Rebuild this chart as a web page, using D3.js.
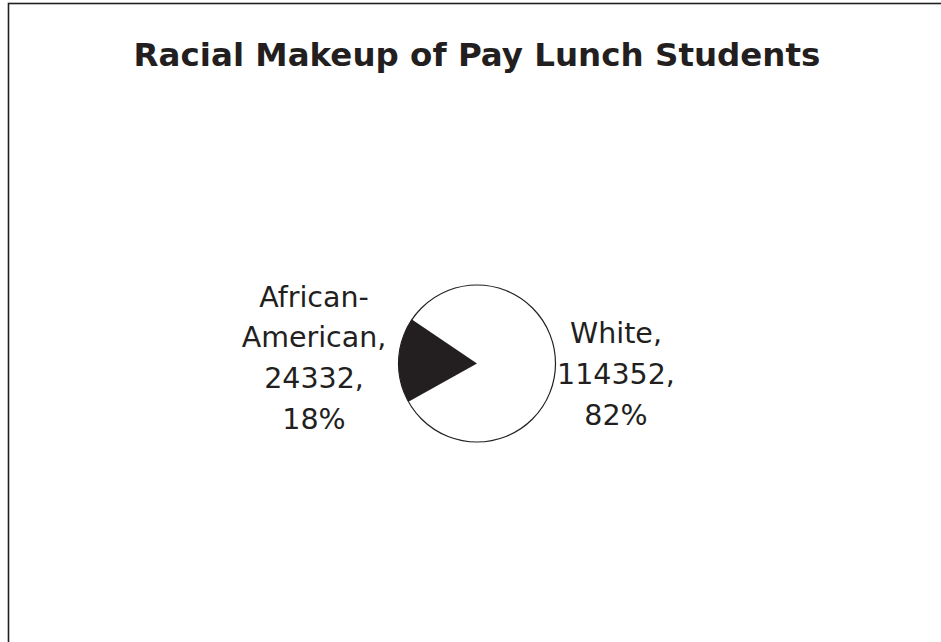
<!DOCTYPE html>
<html>
<head>
<meta charset="utf-8">
<script src="https://cdn.jsdelivr.net/npm/d3@7"></script>
<style>
  html, body { margin: 0; padding: 0; background: #fff; }
  svg { display: block; }
  text { font-family: "DejaVu Sans", Verdana, sans-serif; fill: #231f20; }
</style>
</head>
<body>
<svg id="chart" width="941" height="642"></svg>
<script>
// Pay-lunch student counts by race
const categories = ["White", "African-American"];
const values = [114352, 24332];
const percentLabels = ["82%", "18%"];
const fills = ["#ffffff", "#231f20"];

const svg = d3.select("#chart");
const W = 941, H = 642;

// outer chart frame (runs past the right and bottom edges)
svg.append("rect")
  .attr("x", 8.5).attr("y", 3.5)
  .attr("width", W + 20).attr("height", H + 20)
  .attr("fill", "#fff")
  .attr("stroke", "#231f20").attr("stroke-width", 1.6);

// title
svg.append("text")
  .attr("x", 477).attr("y", 66)
  .attr("text-anchor", "middle")
  .attr("font-weight", "bold")
  .attr("font-size", 32.5)
  .text("Racial Makeup of Pay Lunch Students");

// pie: the White slice is drawn first, ending where the African-American slice begins
const cx = 477, cy = 363.5, r = 78.5;
const endDeg = 304;
const pie = d3.pie().sort(null)
  .startAngle((endDeg - 360) * Math.PI / 180)
  .endAngle(endDeg * Math.PI / 180);
const arcs = pie(values);
const arc = d3.arc().innerRadius(0).outerRadius(r);

const g = svg.append("g").attr("transform", `translate(${cx},${cy})`);
g.selectAll("path.slice")
  .data(arcs)
  .join("path")
  .attr("class", "slice")
  .attr("d", arc)
  .attr("fill", (d, i) => fills[i])
  .attr("stroke", "none");
g.append("circle")
  .attr("r", r)
  .attr("fill", "none")
  .attr("stroke", "#231f20")
  .attr("stroke-width", 1.2);

// data labels: name, value, percent on stacked lines
const fmt = d3.format("d");
const labelPos = [
  { x: 616, y: 343, lines: ["White,"] },
  { x: 314, y: 306.5, lines: ["African-", "American,"] }
];
labelPos.forEach((p, i) => {
  const lines = p.lines.concat([fmt(values[i]) + ",", percentLabels[i]]);
  const t = svg.append("text")
    .attr("text-anchor", "middle")
    .attr("font-size", 28.5);
  lines.forEach((s, k) => {
    t.append("tspan")
      .attr("x", p.x)
      .attr("y", p.y + k * 40.8)
      .text(s);
  });
});
</script>
</body>
</html>
